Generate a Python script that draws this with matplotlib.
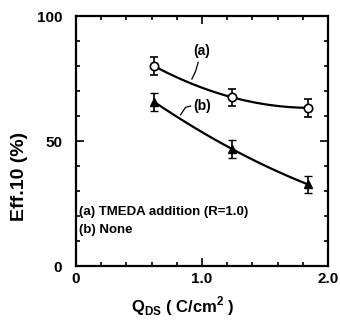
import numpy as np
import matplotlib
matplotlib.use('Agg')
import matplotlib.pyplot as plt
from matplotlib.ticker import MultipleLocator

# charge passed (C/cm2)
q = [0.62, 1.24, 1.84]
# efficiency (%)
eff_a = [80.0, 67.5, 63.3]   # TMEDA addition
eff_b = [65.7, 46.8, 32.7]   # none
err_a = [3.5, 3.5, 3.5]
err_b = [3.5, 3.5, 3.5]

plt.rcParams['font.family'] = ['Liberation Sans', 'DejaVu Sans']
plt.rcParams['font.weight'] = 'bold'
plt.rcParams['axes.labelweight'] = 'bold'
plt.rcParams['font.size'] = 10
plt.rcParams['mathtext.fontset'] = 'custom'
plt.rcParams['mathtext.bf'] = 'Liberation Sans:bold'
plt.rcParams['mathtext.rm'] = 'Liberation Sans:bold'

fig = plt.figure(figsize=(3.4, 3.21), dpi=100)
ax = fig.add_axes([0.2235, 0.171, 0.741, 0.779])

# smooth curves through the points
xs = np.linspace(q[0], q[-1], 100)
ax.plot(xs, np.polyval(np.polyfit(q, eff_a, 2), xs), color='black', lw=1.6)
ax.plot(xs, np.polyval(np.polyfit(q, eff_b, 2), xs), color='black', lw=1.6)

ax.errorbar(q, eff_a, yerr=err_a, fmt='o', mfc='white', mec='black', ms=6,
            ecolor='black', elinewidth=1.2, capsize=3, mew=1.2)
ax.errorbar(q, eff_b, yerr=err_b, fmt='^', mfc='black', mec='black', ms=6,
            ecolor='black', elinewidth=1.2, capsize=3)

# curve labels with leader lines
ax.text(1.0, 86, '(a)', ha='center', va='center', fontsize=10)
ax.plot([0.92, 0.95, 0.97], [74.8, 78, 81.5], color='black', lw=0.9)
ax.text(1.0, 64, '(b)', ha='center', va='center', fontsize=10)
ax.plot([0.83, 0.87, 0.91], [60.5, 63.5, 64], color='black', lw=0.9)

ax.text(0.02, 21.5, '(a) TMEDA addition (R=1.0)', ha='left', va='center', fontsize=9.5)
ax.text(0.02, 14.3, '(b) None', ha='left', va='center', fontsize=9.5)

ax.set_xlim(0, 2.0)
ax.set_ylim(0, 100)
ax.set_xticks([0, 1.0, 2.0])
ax.set_xticklabels(['0', '1.0', '2.0'])
ax.set_yticks([0, 50, 100])
ax.xaxis.set_minor_locator(MultipleLocator(0.2))
ax.yaxis.set_minor_locator(MultipleLocator(10))
ax.tick_params(which='both', direction='in', top=True, right=True, width=1.2)
ax.tick_params(which='major', length=6, labelsize=11)
ax.tick_params(which='minor', length=3)
ax.tick_params(axis='y', which='major', pad=10)
ax.tick_params(axis='x', which='major', pad=4)
for s in ax.spines.values():
    s.set_linewidth(1.6)

ax.set_xlabel('Q$_{\\mathbf{DS}}$ ( C/cm$^{\\mathbf{2}}$ )', fontsize=12)
ax.xaxis.set_label_coords(0.425, -0.115)
ax.set_ylabel('Eff.10 (%)', fontsize=14)
ax.yaxis.set_label_coords(-0.19, 0.36)

fig.savefig('out.png', dpi=100)
